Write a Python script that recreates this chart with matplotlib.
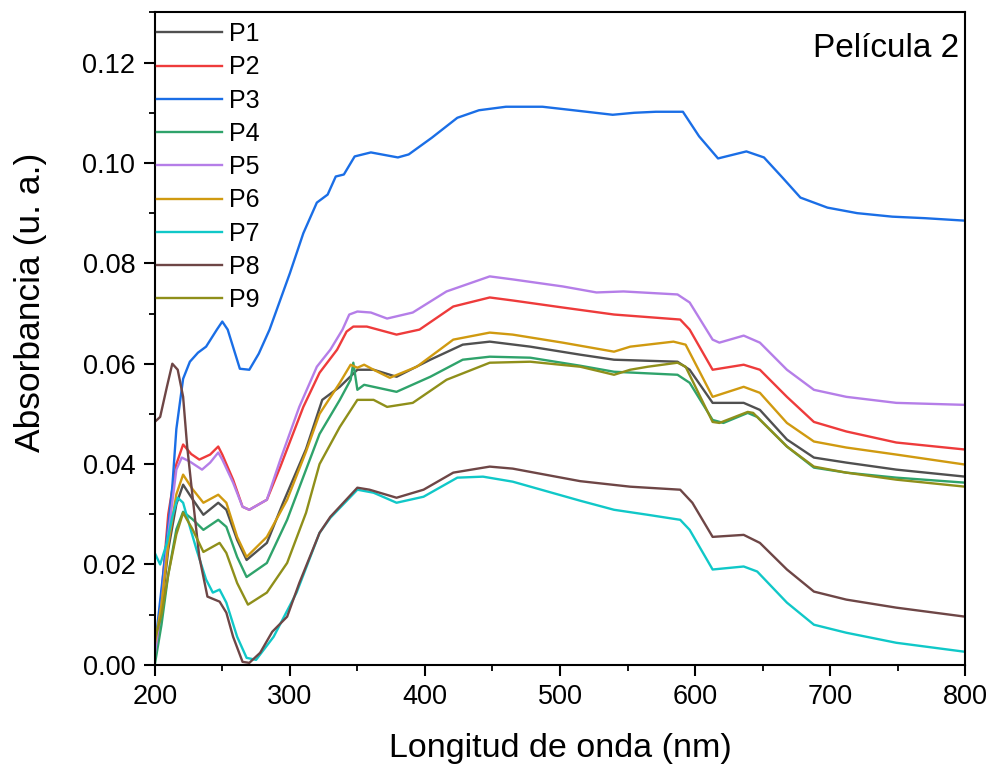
import matplotlib
matplotlib.use("Agg")
import matplotlib.pyplot as plt
from matplotlib.ticker import MultipleLocator

plt.rcParams['font.family'] = ['Liberation Sans', 'DejaVu Sans']

# spectra, wavelength in nm / absorbance in a.u.
wl_p1 = [200, 205, 210, 216, 221, 228, 236, 247, 253, 261, 268, 283, 295, 312, 324, 337, 350, 362, 379, 404, 428, 448, 478, 515, 540, 587, 596, 613, 636, 648, 668, 688, 712, 749, 800]
ab_p1 = [0.002, 0.011, 0.023, 0.032, 0.0359, 0.033, 0.0299, 0.0323, 0.0309, 0.0249, 0.0209, 0.0243, 0.0323, 0.043, 0.0528, 0.0554, 0.0588, 0.0588, 0.0574, 0.0608, 0.0638, 0.0644, 0.0634, 0.0618, 0.0608, 0.0604, 0.0588, 0.0522, 0.0522, 0.0508, 0.0449, 0.0413, 0.0403, 0.0389, 0.0375]

wl_p2 = [200, 205, 210, 216, 221, 227, 233, 241, 247, 250, 258, 265, 270, 283, 293, 310, 322, 335, 342, 347, 357, 379, 396, 421, 448, 465, 502, 540, 589, 596, 613, 636, 648, 668, 688, 712, 749, 800]
ab_p2 = [0.001, 0.014, 0.030, 0.040, 0.0439, 0.042, 0.0409, 0.0419, 0.0435, 0.0419, 0.0369, 0.0315, 0.0309, 0.0329, 0.0395, 0.0514, 0.0582, 0.0628, 0.0664, 0.0674, 0.0674, 0.0658, 0.0668, 0.0714, 0.0732, 0.0726, 0.0712, 0.0698, 0.0688, 0.0668, 0.0588, 0.0598, 0.0588, 0.0534, 0.0484, 0.0465, 0.0443, 0.0429]

wl_p3 = [200, 202, 207, 213, 216, 221, 226, 232, 238, 246, 250, 254, 263, 270, 277, 285, 300, 310, 320, 328, 334, 340, 348, 360, 380, 388, 405, 424, 440, 460, 487, 510, 539, 555, 571, 591, 603, 617, 638, 651, 665, 678, 698, 720, 746, 770, 800]
ab_p3 = [0.003, 0.008, 0.020, 0.0355, 0.047, 0.057, 0.0604, 0.0622, 0.0634, 0.0668, 0.0684, 0.0668, 0.059, 0.0588, 0.062, 0.0668, 0.078, 0.086, 0.0921, 0.0937, 0.0973, 0.0977, 0.1013, 0.1021, 0.1011, 0.1017, 0.105, 0.109, 0.1105, 0.1112, 0.1112, 0.1105, 0.1096, 0.1100, 0.1102, 0.1102, 0.1053, 0.1009, 0.1023, 0.1011, 0.097, 0.0931, 0.0911, 0.0900, 0.0893, 0.0890, 0.0885]

wl_p4 = [200, 205, 210, 216, 221, 228, 236, 247, 253, 261, 268, 283, 298, 312, 322, 337, 345, 347, 350, 355, 379, 404, 428, 448, 478, 515, 540, 587, 596, 613, 621, 639, 646, 668, 688, 712, 749, 800]
ab_p4 = [0.0, 0.008, 0.018, 0.027, 0.0305, 0.029, 0.0269, 0.0289, 0.0275, 0.0215, 0.0175, 0.0203, 0.0289, 0.0389, 0.046, 0.0528, 0.0568, 0.0602, 0.0548, 0.0558, 0.0544, 0.0574, 0.0608, 0.0614, 0.0612, 0.0596, 0.0584, 0.0578, 0.0562, 0.0488, 0.0482, 0.0502, 0.0494, 0.0435, 0.0393, 0.0383, 0.0373, 0.0363]

wl_p5 = [200, 205, 210, 216, 220, 226, 235, 241, 247, 250, 258, 265, 270, 283, 293, 307, 320, 330, 339, 344, 350, 360, 372, 391, 416, 448, 465, 502, 527, 547, 587, 596, 613, 618, 636, 648, 668, 688, 712, 749, 800]
ab_p5 = [0.002, 0.012, 0.026, 0.0389, 0.0413, 0.0405, 0.0389, 0.0403, 0.0423, 0.0409, 0.0363, 0.0315, 0.0309, 0.0329, 0.0409, 0.0514, 0.0594, 0.0628, 0.0668, 0.0698, 0.0704, 0.0702, 0.069, 0.0702, 0.0744, 0.0774, 0.0768, 0.0754, 0.0742, 0.0744, 0.0738, 0.0722, 0.0648, 0.0642, 0.0656, 0.0642, 0.0588, 0.0548, 0.0534, 0.0522, 0.0518]

wl_p6 = [200, 205, 210, 216, 221, 228, 236, 247, 253, 261, 268, 283, 298, 312, 322, 337, 345, 350, 355, 362, 374, 394, 421, 448, 465, 502, 540, 552, 584, 593, 613, 636, 648, 668, 688, 712, 749, 800]
ab_p6 = [0.004, 0.012, 0.024, 0.034, 0.0379, 0.035, 0.0323, 0.0339, 0.0323, 0.0255, 0.0215, 0.0255, 0.0329, 0.0425, 0.050, 0.0562, 0.0598, 0.0592, 0.0598, 0.0588, 0.0572, 0.0594, 0.0648, 0.0662, 0.0658, 0.0642, 0.0624, 0.0634, 0.0644, 0.0638, 0.0534, 0.0554, 0.0542, 0.0482, 0.0445, 0.0433, 0.0419, 0.0399]

wl_p7 = [200, 204, 209, 213, 217, 221, 226, 231, 238, 243, 248, 253, 261, 268, 275, 288, 305, 322, 330, 350, 362, 379, 399, 424, 443, 465, 515, 540, 565, 589, 596, 613, 636, 646, 668, 688, 712, 749, 800]
ab_p7 = [0.0223, 0.020, 0.0243, 0.0295, 0.0333, 0.0323, 0.0275, 0.0229, 0.017, 0.0144, 0.015, 0.0124, 0.0056, 0.0014, 0.001, 0.0056, 0.0144, 0.0263, 0.0293, 0.0349, 0.0343, 0.0323, 0.0335, 0.0373, 0.0375, 0.0365, 0.0327, 0.0309, 0.0299, 0.0289, 0.0269, 0.019, 0.0196, 0.0186, 0.0124, 0.008, 0.0064, 0.0044, 0.0026]

wl_p8 = [200, 204, 209, 213, 217, 221, 224, 228, 233, 239, 248, 253, 258, 265, 270, 278, 287, 298, 307, 322, 330, 350, 359, 379, 399, 421, 448, 465, 515, 552, 589, 598, 613, 636, 648, 668, 688, 712, 749, 800]
ab_p8 = [0.0484, 0.0494, 0.0554, 0.060, 0.0588, 0.0534, 0.0435, 0.0335, 0.0215, 0.0136, 0.0126, 0.0104, 0.0056, 0.0006, 0.0004, 0.0024, 0.0066, 0.0096, 0.0163, 0.0263, 0.0295, 0.0353, 0.0349, 0.0333, 0.0349, 0.0383, 0.0395, 0.0391, 0.0366, 0.0355, 0.0349, 0.0323, 0.0255, 0.0259, 0.0243, 0.019, 0.0146, 0.013, 0.0114, 0.0096]

wl_p9 = [200, 205, 210, 216, 221, 228, 236, 248, 253, 261, 269, 283, 298, 312, 322, 337, 350, 362, 372, 391, 416, 448, 478, 515, 540, 552, 565, 587, 593, 613, 618, 639, 643, 668, 688, 712, 749, 800]
ab_p9 = [0.005, 0.010, 0.018, 0.026, 0.0303, 0.027, 0.0225, 0.0243, 0.0223, 0.0163, 0.012, 0.0144, 0.0203, 0.0303, 0.040, 0.0474, 0.0528, 0.0528, 0.0514, 0.0522, 0.0568, 0.0602, 0.0604, 0.0594, 0.0578, 0.0588, 0.0594, 0.0602, 0.0594, 0.0484, 0.0482, 0.0504, 0.0502, 0.0435, 0.0395, 0.0383, 0.0369, 0.0355]

labels = ['P1', 'P2', 'P3', 'P4', 'P5', 'P6', 'P7', 'P8', 'P9']
colors = ['#505050', '#ee3b3b', '#1a6ee6', '#2fa36b', '#b57ee8',
          '#d09a10', '#10c8c8', '#6e4646', '#8f8f1a']
series = [(wl_p1, ab_p1), (wl_p2, ab_p2), (wl_p3, ab_p3), (wl_p4, ab_p4),
          (wl_p5, ab_p5), (wl_p6, ab_p6), (wl_p7, ab_p7), (wl_p8, ab_p8),
          (wl_p9, ab_p9)]

fig = plt.figure(figsize=(9.92, 7.74), dpi=100)
ax = fig.add_axes([0.156, 0.141, 0.817, 0.843])

for (x, y), lab, c in zip(series, labels, colors):
    ax.plot(x, y, color=c, lw=1.7, label=lab)

ax.set_xlim(200, 800)
ax.set_ylim(0, 0.13)
ax.xaxis.set_major_locator(MultipleLocator(100))
ax.xaxis.set_minor_locator(MultipleLocator(50))
ax.yaxis.set_minor_locator(MultipleLocator(0.01))
ax.set_yticks([0, 0.02, 0.04, 0.06, 0.08, 0.10, 0.12])
ax.set_yticklabels(['0.00', '0.02', '0.04', '0.06', '0.08', '0.10', '0.12'])
ax.tick_params(which='major', direction='out', length=8, width=1.5,
               labelsize=19.5, pad=6)
ax.tick_params(which='minor', direction='out', length=4.5, width=1.3)
for s in ax.spines.values():
    s.set_linewidth(1.5)

ax.set_xlabel('Longitud de onda (nm)', fontsize=24.5, labelpad=16)
ax.set_ylabel('Absorbancia (u. a.)', fontsize=25.5)
ax.yaxis.set_label_coords(-0.133, 0.556)

ax.legend(loc='upper left', frameon=False, fontsize=18, handlelength=2.6,
          handletextpad=0.3, labelspacing=0.37, borderaxespad=0.0,
          borderpad=0.0, bbox_to_anchor=(0.0025, 0.985))
ax.text(0.993, 0.968, 'Película 2', transform=ax.transAxes, ha='right',
        va='top', fontsize=24)

fig.savefig('out.png', dpi=100)
